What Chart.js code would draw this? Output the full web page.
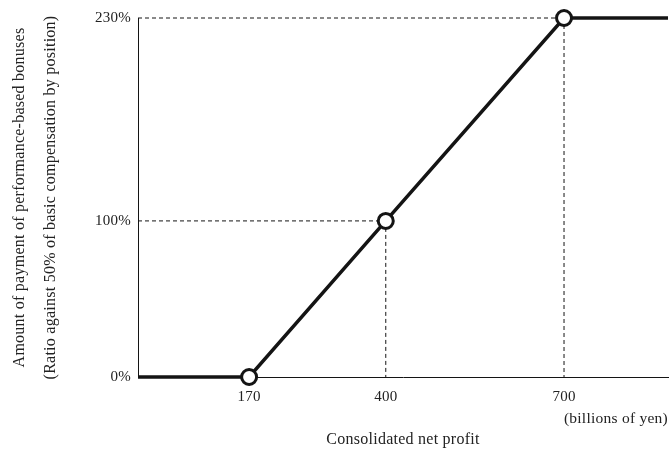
<!DOCTYPE html>
<html>
<head>
<meta charset="utf-8">
<script src="https://cdn.jsdelivr.net/npm/chart.js@4"></script>
<style>
  html, body { margin: 0; padding: 0; background: #ffffff; }
  #wrap { width: 669px; height: 450px; position: relative; }
</style>
</head>
<body>
<div id="wrap"><canvas id="c"></canvas></div>
<script>
// ---- data ----
const profitValues = [-17, 170, 400, 700, 875];      // consolidated net profit (billions of yen)
const bonusValues  = [0, 0, 100, 230, 230];           // payment ratio (%)
const markerFlags  = [false, true, true, true, false];
const xTickValues  = [170, 400, 700];
const yTickValues  = [0, 100, 230];
const xTitle = 'Consolidated net profit';
const xUnit = '(billions of yen)';
const yTitleLines = ['Amount of payment of performance-based bonuses',
                     '(Ratio against 50% of basic compensation by position)'];

const FONT = "'Liberation Serif', 'Times New Roman', serif";
const INK = '#141414';
const TEXT = '#222222';

const guidePlugin = {
  id: 'guides',
  beforeDraw(chart) {
    chart.ctx.letterSpacing = '0.25px';
  },
  beforeDatasetsDraw(chart) {
    const { ctx, scales: { x, y }, chartArea } = chart;
    ctx.save();
    ctx.strokeStyle = INK;
    ctx.lineWidth = 1;
    ctx.setLineDash([4, 3]);
    profitValues.forEach((v, i) => {
      if (!markerFlags[i] || bonusValues[i] <= 0) return;
      const px = x.getPixelForValue(v);
      const py = y.getPixelForValue(bonusValues[i]);
      const py0 = y.getPixelForValue(0);
      ctx.beginPath();
      ctx.moveTo(chartArea.left, py);
      ctx.lineTo(px, py);
      ctx.moveTo(px, py);
      ctx.lineTo(px, py0);
      ctx.stroke();
    });
    ctx.restore();
  },
  afterDraw(chart) {
    const { ctx, chartArea } = chart;
    ctx.save();
    ctx.font = '15.5px ' + FONT;
    ctx.fillStyle = TEXT;
    ctx.textAlign = 'right';
    ctx.textBaseline = 'middle';
    ctx.fillText(xUnit, chartArea.right, chartArea.bottom + 42);
    ctx.restore();
  }
};

new Chart(document.getElementById('c'), {
  type: 'line',
  data: {
    datasets: [{
      data: profitValues.map((v, i) => ({ x: v, y: bonusValues[i] })),
      borderColor: INK,
      borderWidth: 3.5,
      pointRadius: markerFlags.map(f => f ? 7.5 : 0),
      pointBackgroundColor: '#ffffff',
      pointBorderColor: INK,
      pointBorderWidth: 3,
      tension: 0,
      clip: false
    }]
  },
  options: {
    responsive: true,
    maintainAspectRatio: false,
    animation: false,
    devicePixelRatio: 1,
    layout: { padding: { top: 18, right: 1, left: 0, bottom: 0 } },
    plugins: { legend: { display: false }, tooltip: { enabled: false } },
    scales: {
      x: {
        type: 'linear',
        min: profitValues[0],
        max: profitValues[profitValues.length - 1],
        afterBuildTicks: s => { s.ticks = xTickValues.map(v => ({ value: v })); },
        afterFit: s => { s.height = 73; },
        grid: { display: false, drawTicks: false },
        border: { display: true, color: INK, width: 1 },
        ticks: { color: TEXT, font: { family: FONT, size: 15 }, padding: 11, autoSkip: false, maxRotation: 0 },
        title: { display: true, text: xTitle, color: TEXT, font: { family: FONT, size: 16 }, padding: { top: 0, bottom: 1 } }
      },
      y: {
        type: 'linear',
        min: 0,
        max: 230,
        afterBuildTicks: s => { s.ticks = yTickValues.map(v => ({ value: v })); },
        afterFit: s => { s.width = 138; },
        grid: { display: false, drawTicks: false },
        border: { display: true, color: INK, width: 1 },
        ticks: { color: TEXT, font: { family: FONT, size: 15 }, padding: 7, callback: v => v + '%' },
        title: { display: true, text: yTitleLines, color: TEXT, font: { family: FONT, size: 16, lineHeight: '31px' }, padding: { top: 4, bottom: 0 } }
      }
    }
  },
  plugins: [guidePlugin]
});
</script>
</body>
</html>
